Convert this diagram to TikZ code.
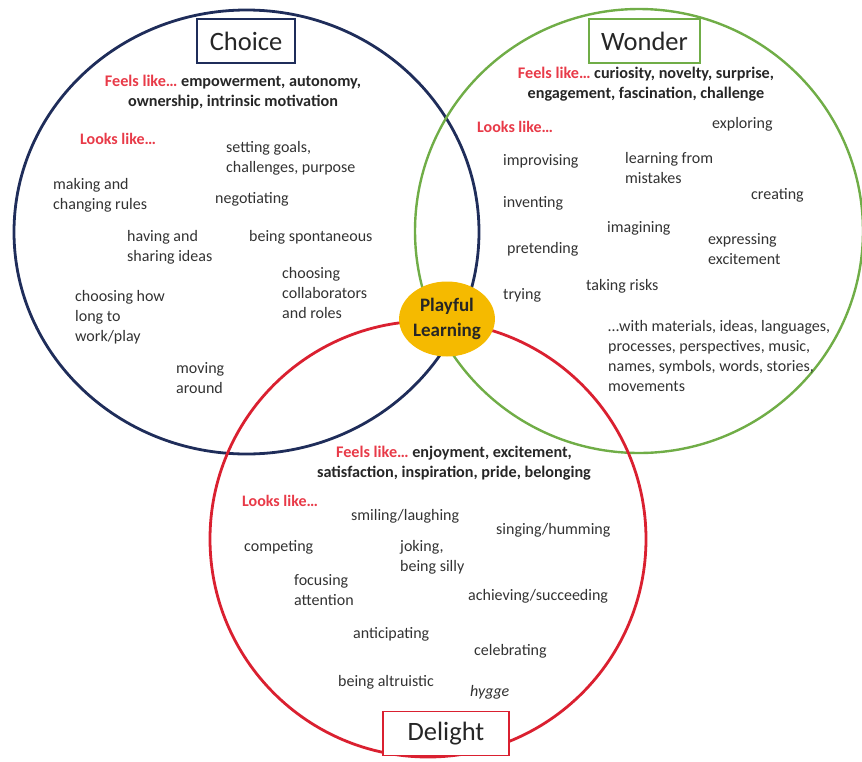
\documentclass[tikz,border=0pt]{standalone}
\usepackage{fontspec}
\setmainfont{Carlito}
\usetikzlibrary{shapes.geometric}
\definecolor{choiceblue}{RGB}{31,45,90}
\definecolor{wondergreen}{RGB}{112,173,71}
\definecolor{delightred}{RGB}{218,32,48}
\definecolor{feelred}{RGB}{232,58,72}
\definecolor{playgold}{RGB}{245,186,0}
\definecolor{inktext}{RGB}{50,50,50}

\begin{document}
\begin{tikzpicture}[x=1pt,y=-1pt,
    item/.style={anchor=west,align=left,inner sep=0pt,text=inktext,font=\fontsize{16}{20}\selectfont},
    feels/.style={anchor=center,align=center,inner sep=0pt,text=black!85,font=\fontsize{16.2}{20}\selectfont\bfseries},
    looks/.style={anchor=west,inner sep=0pt,text=feelred,font=\fontsize{16}{20}\selectfont\bfseries},
    titlebox/.style={draw=#1,line width=1.1pt,fill=white,minimum height=44pt,inner sep=0pt,text=black!85,font=\fontsize{26.5}{30}\selectfont}]
      \useasboundingbox (0,0) rectangle (862,761);
      % the three sets
      \draw[choiceblue,line width=2.8pt] (246.5,232) ellipse [x radius=232.5pt, y radius=222pt];
      \draw[wondergreen,line width=2.4pt] (639,231) ellipse [x radius=224pt, y radius=222pt];
      \draw[delightred,line width=2.8pt] (428,539) ellipse [x radius=218pt, y radius=218pt];
      \node[fill=playgold,shape=ellipse,minimum width=86pt,minimum height=75pt,inner sep=0pt,align=center,
            text=black!85,font=\fontsize{19}{25}\selectfont\bfseries] (play) at (447,319) {Playful\\Learning};
      % titles
      \node[titlebox=choiceblue,minimum width=98pt] (choice) at (246,41) {Choice};
      \node[titlebox=wondergreen,minimum width=111pt] (wonder) at (644.5,41) {Wonder};
      \node[titlebox=delightred,minimum width=126pt] (delight) at (446,733.5) {Delight};
      % choice
      \node[feels] (cfeels) at (233,92) {{\color{feelred}Feels like…} empowerment, autonomy,\\ownership, intrinsic motivation};
      \node[looks] (clooks) at (80,139) {Looks like…};
      \node[item] (goals) at (226,158.5) {setting goals,\\challenges, purpose};
      \node[item] (rules) at (53,195) {making and\\changing rules};
      \node[item] (nego) at (215,199) {negotiating};
      \node[item] (ideas) at (127,247) {having and\\sharing ideas};
      \node[item] (spont) at (249,237) {being spontaneous};
      \node[item] (collab) at (282,293) {choosing\\collaborators\\and roles};
      \node[item] (howlong) at (75,317) {choosing how\\long to\\work/play};
      \node[item] (moving) at (176,378) {moving\\around};
      % wonder
      \node[feels] (wfeels) at (646,84) {{\color{feelred}Feels like…} curiosity, novelty, surprise,\\engagement, fascination, challenge};
      \node[looks] (wlooks) at (477,127) {Looks like…};
      \node[item] (explore) at (712,124) {exploring};
      \node[item] (improv) at (503,161) {improvising};
      \node[item] (mistakes) at (625,168) {learning from\\mistakes};
      \node[item] (create) at (751,195) {creating};
      \node[item] (invent) at (503,203) {inventing};
      \node[item] (imagine) at (607,228) {imagining};
      \node[item] (express) at (708,249) {expressing\\excitement};
      \node[item] (pretend) at (507,249) {pretending};
      \node[item] (risks) at (586,286) {taking risks};
      \node[item] (trying) at (503,295) {trying};
      \node[item] (with) at (608,355.5) {…with materials, ideas, languages,\\processes, perspectives, music,\\names, symbols, words, stories,\\movements};
      % delight
      \node[feels] (dfeels) at (454,463) {{\color{feelred}Feels like…} enjoyment, excitement,\\satisfaction, inspiration, pride, belonging};
      \node[looks] (dlooks) at (242,501) {Looks like…};
      \node[item] (smile) at (351,516) {smiling/laughing};
      \node[item] (sing) at (496,530) {singing/humming};
      \node[item] (compete) at (244,547) {competing};
      \node[item] (joke) at (400,557) {joking,\\being silly};
      \node[item] (focus) at (294,590) {focusing\\attention};
      \node[item] (achieve) at (468,596) {achieving/succeeding};
      \node[item] (anticip) at (353,634) {anticipating};
      \node[item] (celeb) at (474,651) {celebrating};
      \node[item] (altru) at (338,682) {being altruistic};
      \node[item,font=\fontsize{16}{20}\selectfont\itshape] (hygge) at (470,692) {hygge};
    \end{tikzpicture}
\end{document}
